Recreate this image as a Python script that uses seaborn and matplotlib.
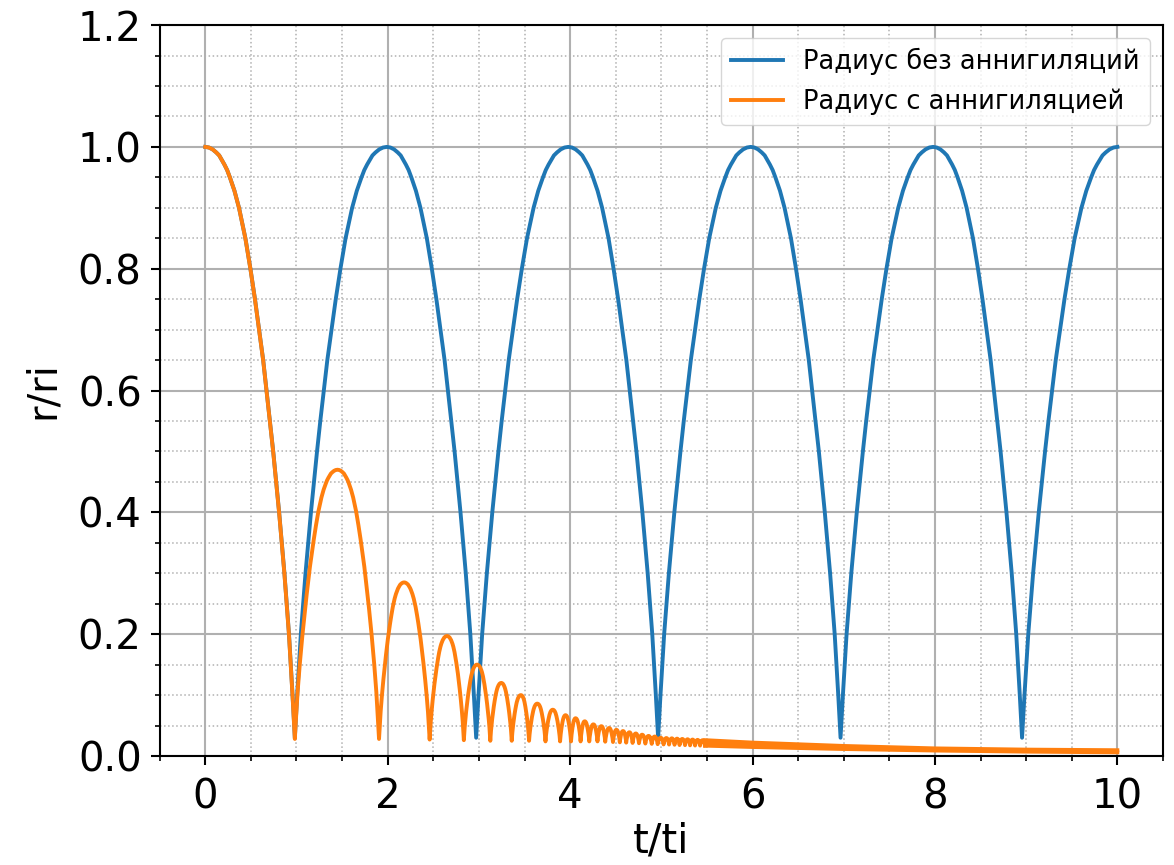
import numpy as np
import pandas as pd
import matplotlib
matplotlib.use("Agg")
import matplotlib.pyplot as plt
from matplotlib.ticker import MultipleLocator
import seaborn as sns

# ---- data ----
# normalized half-arch profile (distance from peak, radius), read from first fall
PROFILE_D = [0.0, 0.04, 0.08, 0.12, 0.153, 0.18, 0.21, 0.24, 0.27, 0.32, 0.37, 0.44,
             0.495, 0.545, 0.59, 0.635, 0.672, 0.71, 0.745, 0.81, 0.868, 0.918, 0.957, 0.982]
PROFILE_R = [1.0, 0.999, 0.996, 0.991, 0.986, 0.979, 0.971, 0.962, 0.95, 0.928, 0.9, 0.85,
             0.8, 0.75, 0.7, 0.65, 0.6, 0.55, 0.5, 0.4, 0.3, 0.2, 0.1, 0.03]

# blue: radius without annihilation
BLUE_PEAK_T = [0.0, 1.99, 3.98, 5.98, 7.98, 10.0]
BLUE_PEAK_R = [1.0, 1.0, 1.0, 1.0, 1.0, 1.0]
BLUE_CUSP_T = [0.982, 2.97, 4.965, 6.965, 8.955]
BLUE_CUSP_R = [0.03, 0.03, 0.03, 0.03, 0.03]

# orange: radius with annihilation (resolved bounces)
OR_PEAK_T = [0.0, 1.45, 2.18, 2.65, 2.98, 3.245, 3.46, 3.64, 3.81, 3.95, 4.06, 4.16, 4.255,
             4.3425, 4.4275, 4.5075, 4.58, 4.65, 4.72, 4.79, 4.86, 4.9275, 4.9925,
             5.055, 5.115, 5.1725, 5.23, 5.2875, 5.3425, 5.3975, 5.4525]
OR_PEAK_R = [1.0, 0.47, 0.285, 0.197, 0.15, 0.12, 0.10, 0.086, 0.076, 0.067, 0.062, 0.057, 0.052,
             0.049, 0.046, 0.043, 0.041, 0.039, 0.037, 0.035, 0.033, 0.032, 0.030,
             0.0295, 0.029, 0.0285, 0.028, 0.0275, 0.027, 0.0265, 0.026]
OR_CUSP_T = [0.982, 1.905, 2.46, 2.835, 3.125, 3.36, 3.55, 3.73, 3.89, 4.01, 4.115, 4.21, 4.30,
             4.385, 4.47, 4.545, 4.615, 4.685, 4.755, 4.825, 4.895, 4.96, 5.025,
             5.085, 5.145, 5.20, 5.26, 5.315, 5.37, 5.425, 5.48]
OR_CUSP_R = [0.028, 0.028, 0.027, 0.026, 0.025, 0.025, 0.025, 0.024, 0.024, 0.024, 0.024, 0.024, 0.024,
             0.0235, 0.023, 0.0225, 0.022, 0.0215, 0.021, 0.0205, 0.020, 0.0195, 0.019,
             0.0188, 0.0185, 0.018, 0.0178, 0.0175, 0.0172, 0.0171, 0.017]

# orange: unresolved dense oscillation band (centre-line envelopes)
BAND_T = [5.48, 6.0, 7.0, 8.0, 9.0, 10.0]
BAND_HI = [0.026, 0.022, 0.0165, 0.0125, 0.0105, 0.0095]
BAND_LO = [0.017, 0.0148, 0.0115, 0.009, 0.0072, 0.006]

LABELS = ["Радиус без аннигиляций", "Радиус с аннигиляцией"]
COLORS = ["#1f77b4", "#ff7f0e"]


def build(peak_t, peak_r, cusp_t, cusp_r):
    pd_ = np.array(PROFILE_D)
    u = pd_ / pd_[-1]
    prof = (np.array(PROFILE_R) - PROFILE_R[-1]) / (PROFILE_R[0] - PROFILE_R[-1])
    ts, rs = [], []
    for i, ct in enumerate(cusp_t):
        pk_t, pk_r = peak_t[i], peak_r[i]
        cr = cusp_r[i]
        ts.extend(pk_t + u * (ct - pk_t))
        rs.extend(cr + (pk_r - cr) * prof)
        if i + 1 < len(peak_t):
            nt, nr = peak_t[i + 1], peak_r[i + 1]
            ts.extend((nt - u * (nt - ct))[::-1][1:])
            rs.extend((cr + (nr - cr) * prof)[::-1][1:])
    return np.array(ts), np.array(rs)


bt, br = build(BLUE_PEAK_T, BLUE_PEAK_R, BLUE_CUSP_T, BLUE_CUSP_R)
ot, orr = build(OR_PEAK_T, OR_PEAK_R, OR_CUSP_T, OR_CUSP_R)

df_b = pd.DataFrame({"t": bt, "r": br})
df_o = pd.DataFrame({"t": ot, "r": orr})
df_band = pd.DataFrame({"t": BAND_T, "hi": BAND_HI, "lo": BAND_LO})

plt.rcParams["font.family"] = ["DejaVu Sans"]
fig = plt.figure(figsize=(11.74, 8.65), dpi=100)
ax = fig.add_axes([0.136, 0.126, 0.9906 - 0.136, 0.971 - 0.126])

LW = 2.8
sns.lineplot(data=df_b, x="t", y="r", sort=False, estimator=None, color=COLORS[0],
             lw=LW, label=LABELS[0], ax=ax)
sns.lineplot(data=df_o, x="t", y="r", sort=False, estimator=None, color=COLORS[1],
             lw=LW, label=LABELS[1], ax=ax)
ax.fill_between(df_band["t"], df_band["lo"], df_band["hi"], color=COLORS[1], lw=0)
sns.lineplot(data=df_band, x="t", y="hi", sort=False, estimator=None, color=COLORS[1],
             lw=LW, ax=ax, legend=False)
sns.lineplot(data=df_band, x="t", y="lo", sort=False, estimator=None, color=COLORS[1],
             lw=LW, ax=ax, legend=False)

ax.set_xlim(-0.5, 10.5)
ax.set_ylim(0, 1.2)
ax.xaxis.set_major_locator(MultipleLocator(2))
ax.xaxis.set_minor_locator(MultipleLocator(0.5))
ax.yaxis.set_major_locator(MultipleLocator(0.2))
ax.yaxis.set_minor_locator(MultipleLocator(0.05))
ax.set_axisbelow(True)
ax.grid(which="major", color="#b0b0b0", lw=1.5)
ax.grid(which="minor", color="#b0b0b0", lw=1.1, ls=":")

ax.tick_params(which="major", length=6.4, width=1.5, labelsize=29, pad=6.5)
ax.tick_params(axis="x", which="major", pad=9)
ax.tick_params(which="minor", length=3.7, width=1.2)
for s in ax.spines.values():
    s.set_linewidth(1.5)

ax.set_xlabel("t/ti", fontsize=29, labelpad=3)
ax.set_ylabel("r/ri", fontsize=29, labelpad=11)

ax.legend(loc="upper right", fontsize=18.5, framealpha=0.8, handlelength=2.0)

fig.savefig("out.png", dpi=100)
